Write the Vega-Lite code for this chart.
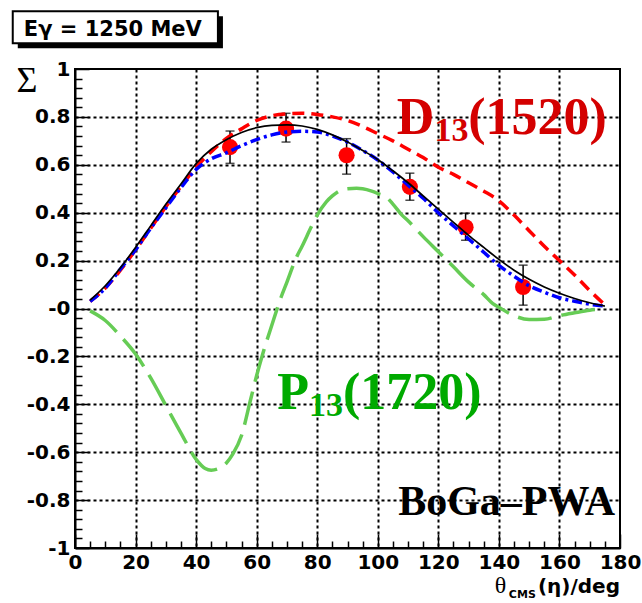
{
  "$schema": "https://vega.github.io/schema/vega-lite/v6.json",
  "width": 545,
  "height": 479,
  "autosize": {"type": "none"},
  "padding": {"left": 75, "top": 69, "right": 22, "bottom": 55},
  "background": "white",
  "config": {"view": {"stroke": "black", "strokeWidth": 2}},
  "datasets": {
    "points": [
      {"theta": 51.2, "sigma": 0.674, "lo": 0.606, "hi": 0.741},
      {"theta": 69.7, "sigma": 0.751, "lo": 0.695, "hi": 0.815},
      {"theta": 89.7, "sigma": 0.640, "lo": 0.561, "hi": 0.709},
      {"theta": 110.6, "sigma": 0.508, "lo": 0.452, "hi": 0.565},
      {"theta": 129.0, "sigma": 0.339, "lo": 0.285, "hi": 0.398},
      {"theta": 148.0, "sigma": 0.090, "lo": 0.014, "hi": 0.181}
    ],
    "curves": [
      {"model": "full", "theta": 5, "sigma": 0.035}, {"model": "full", "theta": 10, "sigma": 0.095}, {"model": "full", "theta": 15, "sigma": 0.17}, {"model": "full", "theta": 20, "sigma": 0.255}, {"model": "full", "theta": 25, "sigma": 0.345}, {"model": "full", "theta": 30, "sigma": 0.435}, {"model": "full", "theta": 35, "sigma": 0.52}, {"model": "full", "theta": 40, "sigma": 0.605}, {"model": "full", "theta": 45, "sigma": 0.665}, {"model": "full", "theta": 50, "sigma": 0.705}, {"model": "full", "theta": 55, "sigma": 0.735}, {"model": "full", "theta": 60, "sigma": 0.755}, {"model": "full", "theta": 65, "sigma": 0.765}, {"model": "full", "theta": 70, "sigma": 0.767}, {"model": "full", "theta": 75, "sigma": 0.762}, {"model": "full", "theta": 80, "sigma": 0.748}, {"model": "full", "theta": 85, "sigma": 0.725}, {"model": "full", "theta": 90, "sigma": 0.695}, {"model": "full", "theta": 95, "sigma": 0.66}, {"model": "full", "theta": 100, "sigma": 0.622}, {"model": "full", "theta": 105, "sigma": 0.575}, {"model": "full", "theta": 110, "sigma": 0.525}, {"model": "full", "theta": 115, "sigma": 0.47}, {"model": "full", "theta": 120, "sigma": 0.415}, {"model": "full", "theta": 125, "sigma": 0.36}, {"model": "full", "theta": 130, "sigma": 0.305}, {"model": "full", "theta": 135, "sigma": 0.255}, {"model": "full", "theta": 140, "sigma": 0.205}, {"model": "full", "theta": 145, "sigma": 0.16}, {"model": "full", "theta": 150, "sigma": 0.122}, {"model": "full", "theta": 155, "sigma": 0.09}, {"model": "full", "theta": 160, "sigma": 0.064}, {"model": "full", "theta": 165, "sigma": 0.042}, {"model": "full", "theta": 170, "sigma": 0.024}, {"model": "full", "theta": 175, "sigma": 0.01},
      {"model": "alt", "theta": 5, "sigma": 0.03}, {"model": "alt", "theta": 10, "sigma": 0.085}, {"model": "alt", "theta": 15, "sigma": 0.165}, {"model": "alt", "theta": 20, "sigma": 0.245}, {"model": "alt", "theta": 25, "sigma": 0.335}, {"model": "alt", "theta": 30, "sigma": 0.42}, {"model": "alt", "theta": 35, "sigma": 0.505}, {"model": "alt", "theta": 40, "sigma": 0.58}, {"model": "alt", "theta": 45, "sigma": 0.625}, {"model": "alt", "theta": 50, "sigma": 0.65}, {"model": "alt", "theta": 55, "sigma": 0.68}, {"model": "alt", "theta": 60, "sigma": 0.705}, {"model": "alt", "theta": 65, "sigma": 0.725}, {"model": "alt", "theta": 70, "sigma": 0.737}, {"model": "alt", "theta": 75, "sigma": 0.74}, {"model": "alt", "theta": 80, "sigma": 0.737}, {"model": "alt", "theta": 85, "sigma": 0.72}, {"model": "alt", "theta": 90, "sigma": 0.695}, {"model": "alt", "theta": 95, "sigma": 0.66}, {"model": "alt", "theta": 100, "sigma": 0.62}, {"model": "alt", "theta": 105, "sigma": 0.57}, {"model": "alt", "theta": 110, "sigma": 0.515}, {"model": "alt", "theta": 115, "sigma": 0.46}, {"model": "alt", "theta": 120, "sigma": 0.40}, {"model": "alt", "theta": 125, "sigma": 0.345}, {"model": "alt", "theta": 130, "sigma": 0.29}, {"model": "alt", "theta": 135, "sigma": 0.235}, {"model": "alt", "theta": 140, "sigma": 0.18}, {"model": "alt", "theta": 145, "sigma": 0.135}, {"model": "alt", "theta": 150, "sigma": 0.095}, {"model": "alt", "theta": 155, "sigma": 0.068}, {"model": "alt", "theta": 160, "sigma": 0.045}, {"model": "alt", "theta": 165, "sigma": 0.03}, {"model": "alt", "theta": 170, "sigma": 0.018}, {"model": "alt", "theta": 175, "sigma": 0.01},
      {"model": "noD13", "theta": 5, "sigma": 0.03}, {"model": "noD13", "theta": 10, "sigma": 0.085}, {"model": "noD13", "theta": 15, "sigma": 0.16}, {"model": "noD13", "theta": 20, "sigma": 0.245}, {"model": "noD13", "theta": 25, "sigma": 0.335}, {"model": "noD13", "theta": 30, "sigma": 0.425}, {"model": "noD13", "theta": 35, "sigma": 0.51}, {"model": "noD13", "theta": 40, "sigma": 0.59}, {"model": "noD13", "theta": 45, "sigma": 0.655}, {"model": "noD13", "theta": 50, "sigma": 0.71}, {"model": "noD13", "theta": 55, "sigma": 0.75}, {"model": "noD13", "theta": 60, "sigma": 0.785}, {"model": "noD13", "theta": 65, "sigma": 0.805}, {"model": "noD13", "theta": 70, "sigma": 0.813}, {"model": "noD13", "theta": 75, "sigma": 0.815}, {"model": "noD13", "theta": 80, "sigma": 0.81}, {"model": "noD13", "theta": 85, "sigma": 0.80}, {"model": "noD13", "theta": 90, "sigma": 0.785}, {"model": "noD13", "theta": 95, "sigma": 0.76}, {"model": "noD13", "theta": 100, "sigma": 0.73}, {"model": "noD13", "theta": 105, "sigma": 0.70}, {"model": "noD13", "theta": 110, "sigma": 0.665}, {"model": "noD13", "theta": 115, "sigma": 0.63}, {"model": "noD13", "theta": 120, "sigma": 0.59}, {"model": "noD13", "theta": 125, "sigma": 0.56}, {"model": "noD13", "theta": 130, "sigma": 0.525}, {"model": "noD13", "theta": 135, "sigma": 0.49}, {"model": "noD13", "theta": 140, "sigma": 0.45}, {"model": "noD13", "theta": 145, "sigma": 0.39}, {"model": "noD13", "theta": 150, "sigma": 0.325}, {"model": "noD13", "theta": 155, "sigma": 0.26}, {"model": "noD13", "theta": 160, "sigma": 0.2}, {"model": "noD13", "theta": 165, "sigma": 0.14}, {"model": "noD13", "theta": 170, "sigma": 0.075}, {"model": "noD13", "theta": 175, "sigma": 0.015},
      {"model": "noP13", "theta": 5, "sigma": -0.01}, {"model": "noP13", "theta": 10, "sigma": -0.05}, {"model": "noP13", "theta": 15, "sigma": -0.115}, {"model": "noP13", "theta": 20, "sigma": -0.19}, {"model": "noP13", "theta": 25, "sigma": -0.29}, {"model": "noP13", "theta": 30, "sigma": -0.405}, {"model": "noP13", "theta": 35, "sigma": -0.52}, {"model": "noP13", "theta": 40, "sigma": -0.63}, {"model": "noP13", "theta": 43, "sigma": -0.668}, {"model": "noP13", "theta": 45, "sigma": -0.675}, {"model": "noP13", "theta": 48, "sigma": -0.665}, {"model": "noP13", "theta": 50, "sigma": -0.645}, {"model": "noP13", "theta": 52, "sigma": -0.61}, {"model": "noP13", "theta": 55, "sigma": -0.53}, {"model": "noP13", "theta": 58, "sigma": -0.38}, {"model": "noP13", "theta": 60, "sigma": -0.28}, {"model": "noP13", "theta": 62, "sigma": -0.19}, {"model": "noP13", "theta": 65, "sigma": -0.07}, {"model": "noP13", "theta": 68, "sigma": 0.045}, {"model": "noP13", "theta": 70, "sigma": 0.11}, {"model": "noP13", "theta": 73, "sigma": 0.21}, {"model": "noP13", "theta": 75, "sigma": 0.26}, {"model": "noP13", "theta": 78, "sigma": 0.34}, {"model": "noP13", "theta": 80, "sigma": 0.39}, {"model": "noP13", "theta": 83, "sigma": 0.445}, {"model": "noP13", "theta": 85, "sigma": 0.47}, {"model": "noP13", "theta": 88, "sigma": 0.495}, {"model": "noP13", "theta": 90, "sigma": 0.50}, {"model": "noP13", "theta": 93, "sigma": 0.502}, {"model": "noP13", "theta": 95, "sigma": 0.50}, {"model": "noP13", "theta": 98, "sigma": 0.49}, {"model": "noP13", "theta": 100, "sigma": 0.48}, {"model": "noP13", "theta": 103, "sigma": 0.463}, {"model": "noP13", "theta": 105, "sigma": 0.436}, {"model": "noP13", "theta": 108, "sigma": 0.39}, {"model": "noP13", "theta": 110, "sigma": 0.366}, {"model": "noP13", "theta": 115, "sigma": 0.30}, {"model": "noP13", "theta": 120, "sigma": 0.237}, {"model": "noP13", "theta": 125, "sigma": 0.174}, {"model": "noP13", "theta": 130, "sigma": 0.11}, {"model": "noP13", "theta": 135, "sigma": 0.058}, {"model": "noP13", "theta": 138, "sigma": 0.02}, {"model": "noP13", "theta": 140, "sigma": 0.005}, {"model": "noP13", "theta": 145, "sigma": -0.03}, {"model": "noP13", "theta": 150, "sigma": -0.046}, {"model": "noP13", "theta": 155, "sigma": -0.045}, {"model": "noP13", "theta": 160, "sigma": -0.03}, {"model": "noP13", "theta": 165, "sigma": -0.018}, {"model": "noP13", "theta": 170, "sigma": -0.007}, {"model": "noP13", "theta": 175, "sigma": 0.0}
    ]
  },
  "layer": [
    {
      "data": {"name": "points"},
      "mark": {"type": "rule", "color": "black", "strokeWidth": 1.5},
      "encoding": {
        "x": {"field": "theta", "type": "quantitative",
          "scale": {"domain": [0, 180], "nice": false, "zero": false},
          "axis": {
            "values": [0,5,10,15,20,25,30,35,40,45,50,55,60,65,70,75,80,85,90,95,100,105,110,115,120,125,130,135,140,145,150,155,160,165,170,175,180],
            "tickCount": 200,
            "title": null,
            "labelExpr": "datum.value % 20 === 0 ? '' + datum.value : ''",
            "labelFont": "DejaVu Sans", "labelFontWeight": "bold", "labelFontSize": 20, "labelColor": "black",
            "labelPadding": 18, "labelFlush": false, "labelOverlap": false,
            "tickSize": {"condition": {"test": "datum.value % 20 === 0", "value": -14}, "value": -7},
            "tickColor": "black", "tickWidth": 1.5,
            "domainColor": "black", "domainWidth": 2,
            "grid": true, "gridColor": "black", "gridDash": [3, 3], "gridWidth": 2,
            "gridOpacity": {"condition": {"test": "datum.value % 20 === 0 && datum.value > 0 && datum.value < 180", "value": 1}, "value": 0}
          }},
        "y": {"field": "lo", "type": "quantitative",
          "scale": {"domain": [-1, 1], "nice": false, "zero": false},
          "axis": {
            "values": [-1,-0.96,-0.92,-0.88,-0.84,-0.8,-0.76,-0.72,-0.68,-0.64,-0.6,-0.56,-0.52,-0.48,-0.44,-0.4,-0.36,-0.32,-0.28,-0.24,-0.2,-0.16,-0.12,-0.08,-0.04,0,0.04,0.08,0.12,0.16,0.2,0.24,0.28,0.32,0.36,0.4,0.44,0.48,0.52,0.56,0.6,0.64,0.68,0.72,0.76,0.8,0.84,0.88,0.92,0.96,1],
            "tickCount": 200,
            "title": null,
            "labelExpr": "abs(datum.value*5 - round(datum.value*5)) < 0.001 ? (abs(datum.value) < 0.001 ? '-0' : ((datum.value < 0 ? '-' : '') + format(abs(datum.value), '.1~f'))) : ''",
            "labelFont": "DejaVu Sans", "labelFontWeight": "bold", "labelFontSize": 20, "labelColor": "black",
            "labelPadding": 19, "labelFlush": false, "labelOverlap": false,
            "tickSize": {"condition": {"test": "abs(datum.value*5 - round(datum.value*5)) < 0.001", "value": -14}, "value": -7},
            "tickColor": "black", "tickWidth": 1.5,
            "domainColor": "black", "domainWidth": 2,
            "grid": true, "gridColor": "black", "gridDash": [3, 3], "gridWidth": 2,
            "gridOpacity": {"condition": {"test": "abs(datum.value*5 - round(datum.value*5)) < 0.001 && abs(datum.value) < 0.99", "value": 1}, "value": 0}
          }},
        "y2": {"field": "hi"}
      }
    },
    {
      "data": {"name": "points"},
      "mark": {"type": "tick", "orient": "horizontal", "color": "black", "size": 9, "thickness": 1.5},
      "encoding": {
        "x": {"field": "theta", "type": "quantitative", "axis": {"title": null}},
        "y": {"field": "lo", "type": "quantitative", "axis": {"title": null}}
      }
    },
    {
      "data": {"name": "points"},
      "mark": {"type": "tick", "orient": "horizontal", "color": "black", "size": 9, "thickness": 1.5},
      "encoding": {
        "x": {"field": "theta", "type": "quantitative", "axis": {"title": null}},
        "y": {"field": "hi", "type": "quantitative", "axis": {"title": null}}
      }
    },
    {
      "data": {"name": "points"},
      "mark": {"type": "point", "shape": "circle", "filled": true, "color": "#ff0000", "size": 260, "opacity": 1},
      "encoding": {
        "x": {"field": "theta", "type": "quantitative", "axis": {"title": null}},
        "y": {"field": "sigma", "type": "quantitative", "axis": {"title": null}}
      }
    },
    {
      "data": {"name": "curves"},
      "transform": [{"filter": "datum.model === 'noP13'"}],
      "mark": {"type": "line", "color": "#66cc55", "strokeWidth": 3.5, "strokeDash": [34, 10], "interpolate": "monotone"},
      "encoding": {
        "x": {"field": "theta", "type": "quantitative", "axis": {"title": null}},
        "y": {"field": "sigma", "type": "quantitative", "axis": {"title": null}}
      }
    },
    {
      "data": {"name": "curves"},
      "transform": [{"filter": "datum.model === 'noD13'"}],
      "mark": {"type": "line", "color": "#ff0000", "strokeWidth": 3.5, "strokeDash": [12, 7], "interpolate": "monotone"},
      "encoding": {
        "x": {"field": "theta", "type": "quantitative", "axis": {"title": null}},
        "y": {"field": "sigma", "type": "quantitative", "axis": {"title": null}}
      }
    },
    {
      "data": {"name": "curves"},
      "transform": [{"filter": "datum.model === 'alt'"}],
      "mark": {"type": "line", "color": "#0000ff", "strokeWidth": 3.5, "strokeDash": [10, 4, 3, 4], "interpolate": "monotone"},
      "encoding": {
        "x": {"field": "theta", "type": "quantitative", "axis": {"title": null}},
        "y": {"field": "sigma", "type": "quantitative", "axis": {"title": null}}
      }
    },
    {
      "data": {"name": "curves"},
      "transform": [{"filter": "datum.model === 'full'"}],
      "mark": {"type": "line", "color": "black", "strokeWidth": 1.7, "interpolate": "monotone"},
      "encoding": {
        "x": {"field": "theta", "type": "quantitative", "axis": {"title": null}},
        "y": {"field": "sigma", "type": "quantitative", "axis": {"title": null}}
      }
    },
    {
      "data": {"values": [{"x1": -18.9, "x2": 48.86, "y1": 1.22, "y2": 1.0864}]},
      "mark": {"type": "rect", "fill": "black"},
      "encoding": {
        "x": {"field": "x1", "type": "quantitative", "axis": {"title": null}},
        "x2": {"field": "x2"},
        "y": {"field": "y1", "type": "quantitative", "axis": {"title": null}},
        "y2": {"field": "y2"}
      }
    },
    {
      "data": {"values": [{"x1": -20.56, "x2": 47.2, "y1": 1.2408, "y2": 1.1073}]},
      "mark": {"type": "rect", "fill": "white", "stroke": "black", "strokeWidth": 2},
      "encoding": {
        "x": {"field": "x1", "type": "quantitative", "axis": {"title": null}},
        "x2": {"field": "x2"},
        "y": {"field": "y1", "type": "quantitative", "axis": {"title": null}},
        "y2": {"field": "y2"}
      }
    },
    {
      "data": {"values": [{"label": "Eγ = 1250 MeV", "theta": 12.5, "sigma": 1.1365}]},
      "mark": {"type": "text", "font": "DejaVu Sans", "fontWeight": "bold", "fontSize": 21, "color": "black", "align": "center", "baseline": "alphabetic"},
      "encoding": {
        "x": {"field": "theta", "type": "quantitative", "axis": {"title": null}},
        "y": {"field": "sigma", "type": "quantitative", "axis": {"title": null}},
        "text": {"field": "label"}
      }
    },
    {
      "data": {"values": [{"label": "Σ", "theta": -15.9, "sigma": 0.905}]},
      "mark": {"type": "text", "font": "Liberation Serif", "fontSize": 36, "color": "black", "align": "center", "baseline": "alphabetic"},
      "encoding": {
        "x": {"field": "theta", "type": "quantitative", "axis": {"title": null}},
        "y": {"field": "sigma", "type": "quantitative", "axis": {"title": null}},
        "text": {"field": "label"}
      }
    },
    {
      "data": {"values": [{"label": "(η)/deg", "theta": 180, "sigma": -1.186}]},
      "mark": {"type": "text", "font": "DejaVu Sans", "fontWeight": "bold", "fontSize": 20, "color": "black", "align": "right", "baseline": "alphabetic"},
      "encoding": {
        "x": {"field": "theta", "type": "quantitative", "axis": {"title": null}},
        "y": {"field": "sigma", "type": "quantitative", "axis": {"title": null}},
        "text": {"field": "label"}
      }
    },
    {
      "data": {"values": [{"label": "CMS", "theta": 152.2, "sigma": -1.207}]},
      "mark": {"type": "text", "font": "DejaVu Sans", "fontWeight": "bold", "fontSize": 11, "color": "black", "align": "right", "baseline": "alphabetic"},
      "encoding": {
        "x": {"field": "theta", "type": "quantitative", "axis": {"title": null}},
        "y": {"field": "sigma", "type": "quantitative", "axis": {"title": null}},
        "text": {"field": "label"}
      }
    },
    {
      "data": {"values": [{"label": "θ", "theta": 142.4, "sigma": -1.186}]},
      "mark": {"type": "text", "font": "Liberation Serif", "fontSize": 24, "color": "black", "align": "right", "baseline": "alphabetic"},
      "encoding": {
        "x": {"field": "theta", "type": "quantitative", "axis": {"title": null}},
        "y": {"field": "sigma", "type": "quantitative", "axis": {"title": null}},
        "text": {"field": "label"}
      }
    },
    {
      "data": {"values": [{"label": "D", "theta": 106.3, "sigma": 0.73}, {"label": "(1520)", "theta": 129.9, "sigma": 0.73}]},
      "mark": {"type": "text", "font": "Liberation Serif", "fontWeight": "bold", "fontSize": 52, "color": "#d40000", "align": "left", "baseline": "alphabetic"},
      "encoding": {
        "x": {"field": "theta", "type": "quantitative", "axis": {"title": null}},
        "y": {"field": "sigma", "type": "quantitative", "axis": {"title": null}},
        "text": {"field": "label"}
      }
    },
    {
      "data": {"values": [{"label": "13", "theta": 118.7, "sigma": 0.70}]},
      "mark": {"type": "text", "font": "Liberation Serif", "fontWeight": "bold", "fontSize": 34, "color": "#d40000", "align": "left", "baseline": "alphabetic"},
      "encoding": {
        "x": {"field": "theta", "type": "quantitative", "axis": {"title": null}},
        "y": {"field": "sigma", "type": "quantitative", "axis": {"title": null}},
        "text": {"field": "label"}
      }
    },
    {
      "data": {"values": [{"label": "P", "theta": 66.8, "sigma": -0.42}, {"label": "(1720)", "theta": 88.5, "sigma": -0.42}]},
      "mark": {"type": "text", "font": "Liberation Serif", "fontWeight": "bold", "fontSize": 52, "color": "#00aa00", "align": "left", "baseline": "alphabetic"},
      "encoding": {
        "x": {"field": "theta", "type": "quantitative", "axis": {"title": null}},
        "y": {"field": "sigma", "type": "quantitative", "axis": {"title": null}},
        "text": {"field": "label"}
      }
    },
    {
      "data": {"values": [{"label": "13", "theta": 77.3, "sigma": -0.449}]},
      "mark": {"type": "text", "font": "Liberation Serif", "fontWeight": "bold", "fontSize": 34, "color": "#00aa00", "align": "left", "baseline": "alphabetic"},
      "encoding": {
        "x": {"field": "theta", "type": "quantitative", "axis": {"title": null}},
        "y": {"field": "sigma", "type": "quantitative", "axis": {"title": null}},
        "text": {"field": "label"}
      }
    },
    {
      "data": {"values": [{"label": "BoGa–PWA", "theta": 178.4, "sigma": -0.863}]},
      "mark": {"type": "text", "font": "Liberation Serif", "fontWeight": "bold", "fontSize": 42, "color": "black", "align": "right", "baseline": "alphabetic"},
      "encoding": {
        "x": {"field": "theta", "type": "quantitative", "axis": {"title": null}},
        "y": {"field": "sigma", "type": "quantitative", "axis": {"title": null}},
        "text": {"field": "label"}
      }
    }
  ]
}
